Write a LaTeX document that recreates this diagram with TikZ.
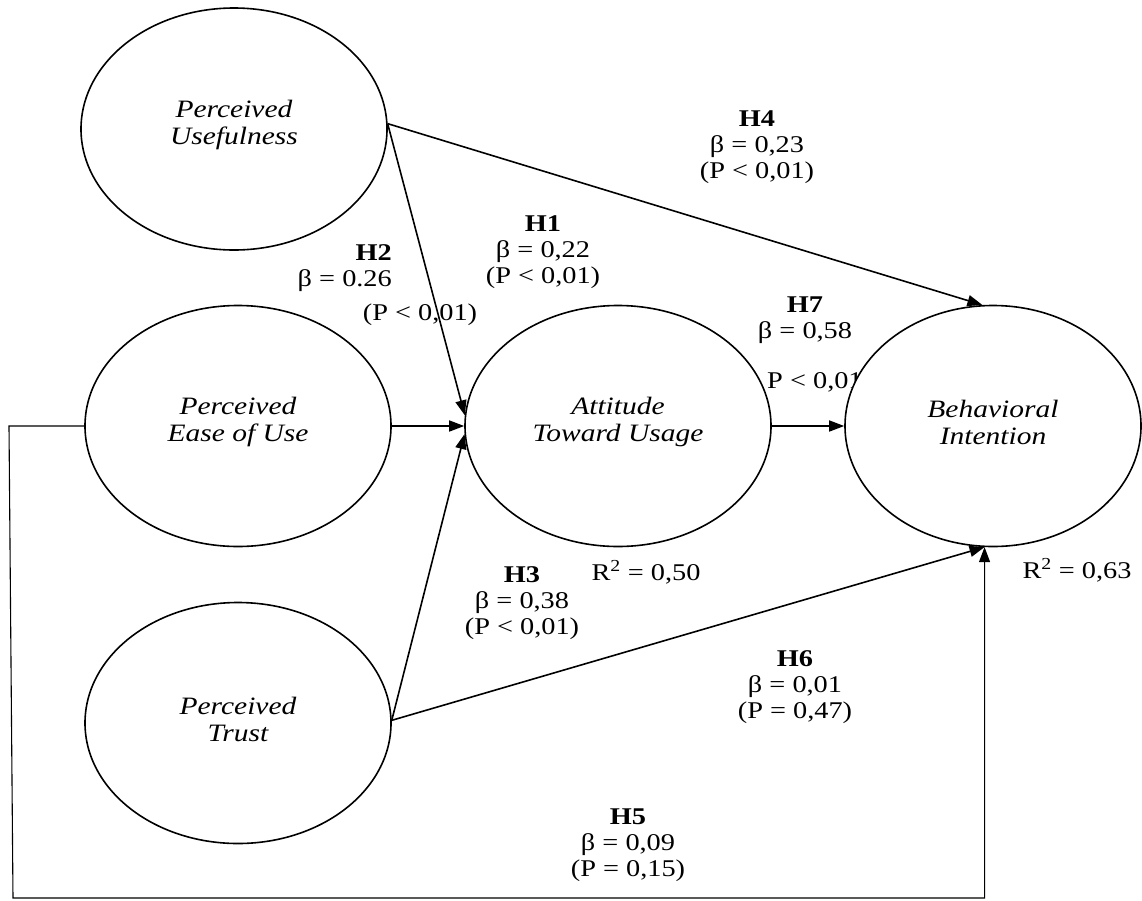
\documentclass[tikz,border=0pt]{standalone}
\usepackage{fontspec}
\setmainfont{Liberation Serif}[FakeStretch=1.18]
\usetikzlibrary{shapes.geometric,arrows.meta,calc}
\begin{document}
\begin{tikzpicture}[x=1pt,y=-1pt,
  construct/.style={ellipse,draw,line width=1.6pt,fill=white,minimum width=306pt,minimum height=241pt,inner sep=0pt},
  ctext/.style={align=center,inner sep=0pt,font=\fontsize{25}{27}\selectfont\itshape},
  lab/.style={align=center,inner sep=0pt,font=\fontsize{24}{26}\selectfont},
  relarrow/.style={line width=1.6pt,-{Triangle[length=15pt,width=11pt]}},
  feed/.style={line width=1.1pt,-{Triangle[length=15pt,width=11pt]}}]
\useasboundingbox (0,0) rectangle (1142,900);
% labels (drawn first, so ellipses hide overlaps)
\node[lab] (h1) at (543,252) {\textbf{H1}\\β = 0,22\\(P < 0,01)};
\node[lab,align=right,anchor=east] (h2) at (392,268) {\textbf{H2}\\β = 0.26};
\node[lab] (h2p) at (420,315) {(P < 0,01)};
\node[lab] (h4) at (757,147) {\textbf{H4}\\β = 0,23\\(P < 0,01)};
\node[lab] (h7) at (805,320) {\textbf{H7}\\β = 0,58};
\node[lab,anchor=west] (h7p) at (767,382) {P < 0,01};
\node[lab] (h3) at (522,603) {\textbf{H3}\\β = 0,38\\(P < 0,01)};
\node[lab] (h6) at (795,687) {\textbf{H6}\\β = 0,01\\(P = 0,47)};
\node[lab] (h5) at (628,845) {\textbf{H5}\\β = 0,09\\(P = 0,15)};
\node[lab] (r1) at (646,572) {R\textsuperscript{2} = 0,50};
\node[lab] (r2) at (1077,570) {R\textsuperscript{2} = 0,63};
% constructs
\node[construct,minimum height=242pt] (pu) at (234,129) {};
\node[construct] (peou) at (238,426) {};
\node[construct] (pt) at (238,723) {};
\node[construct] (atu) at (618,426) {};
\node[construct,minimum width=296pt] (bi) at (993,426) {};
\node[ctext] (putx) at ($(pu)+(0,-4)$) {Perceived\\Usefulness};
\node[ctext] (peoutx) at ($(peou)+(0,-4)$) {Perceived\\Ease of Use};
\node[ctext] (pttx) at ($(pt)+(0,-4)$) {Perceived\\Trust};
\node[ctext] (atutx) at ($(atu)+(0,-4)$) {Attitude\\Toward Usage};
\node[ctext] (bitx) at ($(bi)+(0,-4)$) {Behavioral\\Intention};
% paths
\draw[relarrow] (pu.2) -- (atu.176.5);
\draw[relarrow] (pu.2) -- (bi.95);
\draw[relarrow] (peou.east) -- (atu.west);
\draw[relarrow] (pt.1) -- (atu.183.5);
\draw[relarrow] (pt.1) -- (bi.266);
\draw[relarrow] (atu.east) -- (bi.west);
\coordinate (fb1) at (9,426);
\coordinate (fb2) at (13,898);
\draw[feed] (peou.west) -- (fb1) -- (fb2) -| (bi.266);
\end{tikzpicture}
\end{document}
